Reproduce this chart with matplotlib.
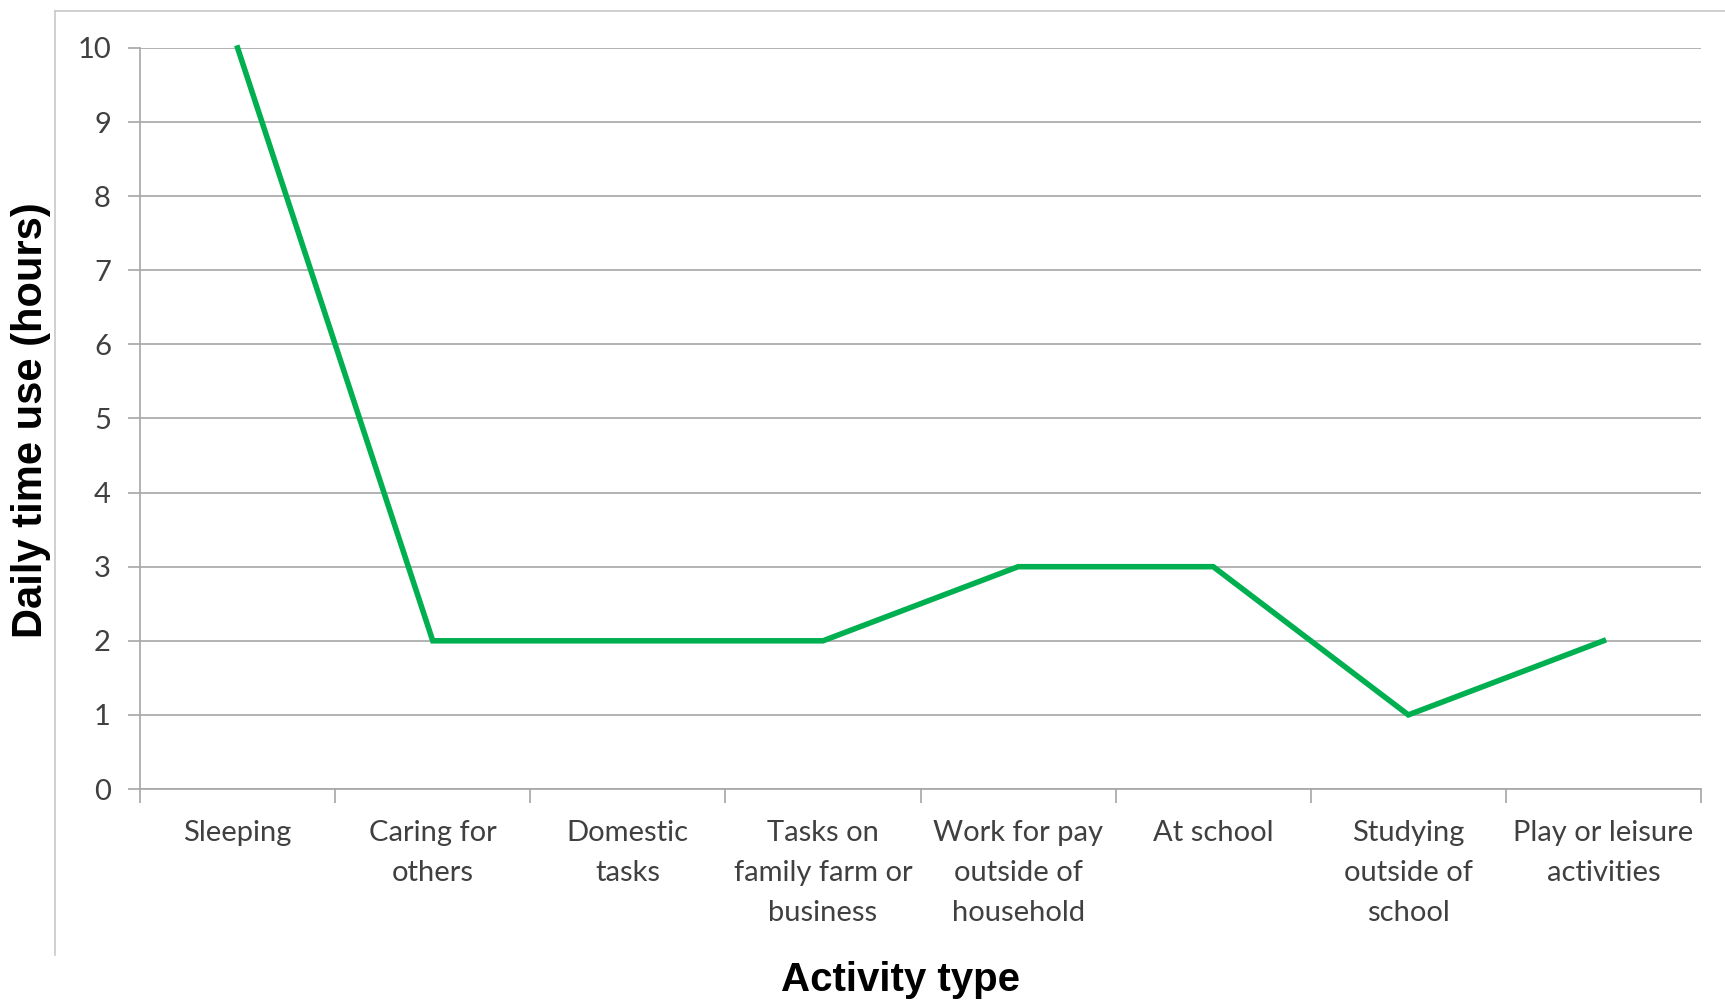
import matplotlib.pyplot as plt
from matplotlib.lines import Line2D
from matplotlib.ticker import FixedLocator

activities = [
    "Sleeping",
    "Caring for\nothers",
    "Domestic\ntasks",
    "Tasks on\nfamily farm or\nbusiness",
    "Work for pay\noutside of\nhousehold",
    "At school",
    "Studying\noutside of\nschool",
    "Play or leisure\nactivities",
]
hours = [10, 2, 2, 2, 3, 3, 1, 2]
y_ticks = list(range(0, 11))

LINE_GREEN = "#00B050"
GRID_GREY = "#a6a6a6"
TEXT_GREY = "#404040"
NARROW = ["Liberation Sans Narrow", "Liberation Sans", "DejaVu Sans"]


def plot_chart():
    fig = plt.figure(figsize=(17.25, 10), dpi=100)
    ax = fig.add_axes([0.0812, 0.211, 0.9049, 0.741])

    x = list(range(len(hours)))
    ax.plot(x, hours, color=LINE_GREEN, linewidth=4.0, solid_joinstyle="miter",
            clip_on=False, zorder=3)

    ax.set_xlim(-0.5, len(hours) - 0.5)
    ax.set_ylim(0, 10)
    ax.set_yticks(y_ticks)
    ax.set_xticks(x)
    ax.set_xticklabels(activities, fontsize=21, family="Lato", color=TEXT_GREY,
                       linespacing=1.68)
    ax.xaxis.set_minor_locator(FixedLocator([i - 0.5 for i in range(len(hours) + 1)]))
    ax.tick_params(axis="x", which="major", length=0, pad=22)
    ax.tick_params(axis="x", which="minor", length=10, color=GRID_GREY, width=1.2)
    ax.tick_params(axis="y", length=9, color=GRID_GREY, width=1.2, pad=12,
                   labelsize=21, labelcolor=TEXT_GREY)
    for lab in ax.get_yticklabels():
        lab.set_family("Lato")

    ax.grid(axis="y", color=GRID_GREY, linewidth=1.2)
    ax.set_axisbelow(True)
    for side in ("top", "right"):
        ax.spines[side].set_visible(False)
    for side in ("left", "bottom"):
        ax.spines[side].set_color(GRID_GREY)
        ax.spines[side].set_linewidth(1.2)

    fig.text(0.018, 0.58, "Daily time use (hours)", rotation=90, ha="center",
             va="center", fontsize=30, fontweight="bold", family=NARROW)
    fig.text(0.522, 0.02, "Activity type", ha="center", va="center",
             fontsize=29, fontweight="bold", family=NARROW)

    # slide frame around the chart area
    fig.add_artist(Line2D([0.0319, 0.0319], [0.045, 0.989], color="#c8c8c8", linewidth=1.2))
    fig.add_artist(Line2D([0.0319, 1.0], [0.989, 0.989], color="#c8c8c8", linewidth=1.2))

    fig.savefig("out.png", dpi=100)


def main():
    plot_chart()


if __name__ == "__main__":
    main()
